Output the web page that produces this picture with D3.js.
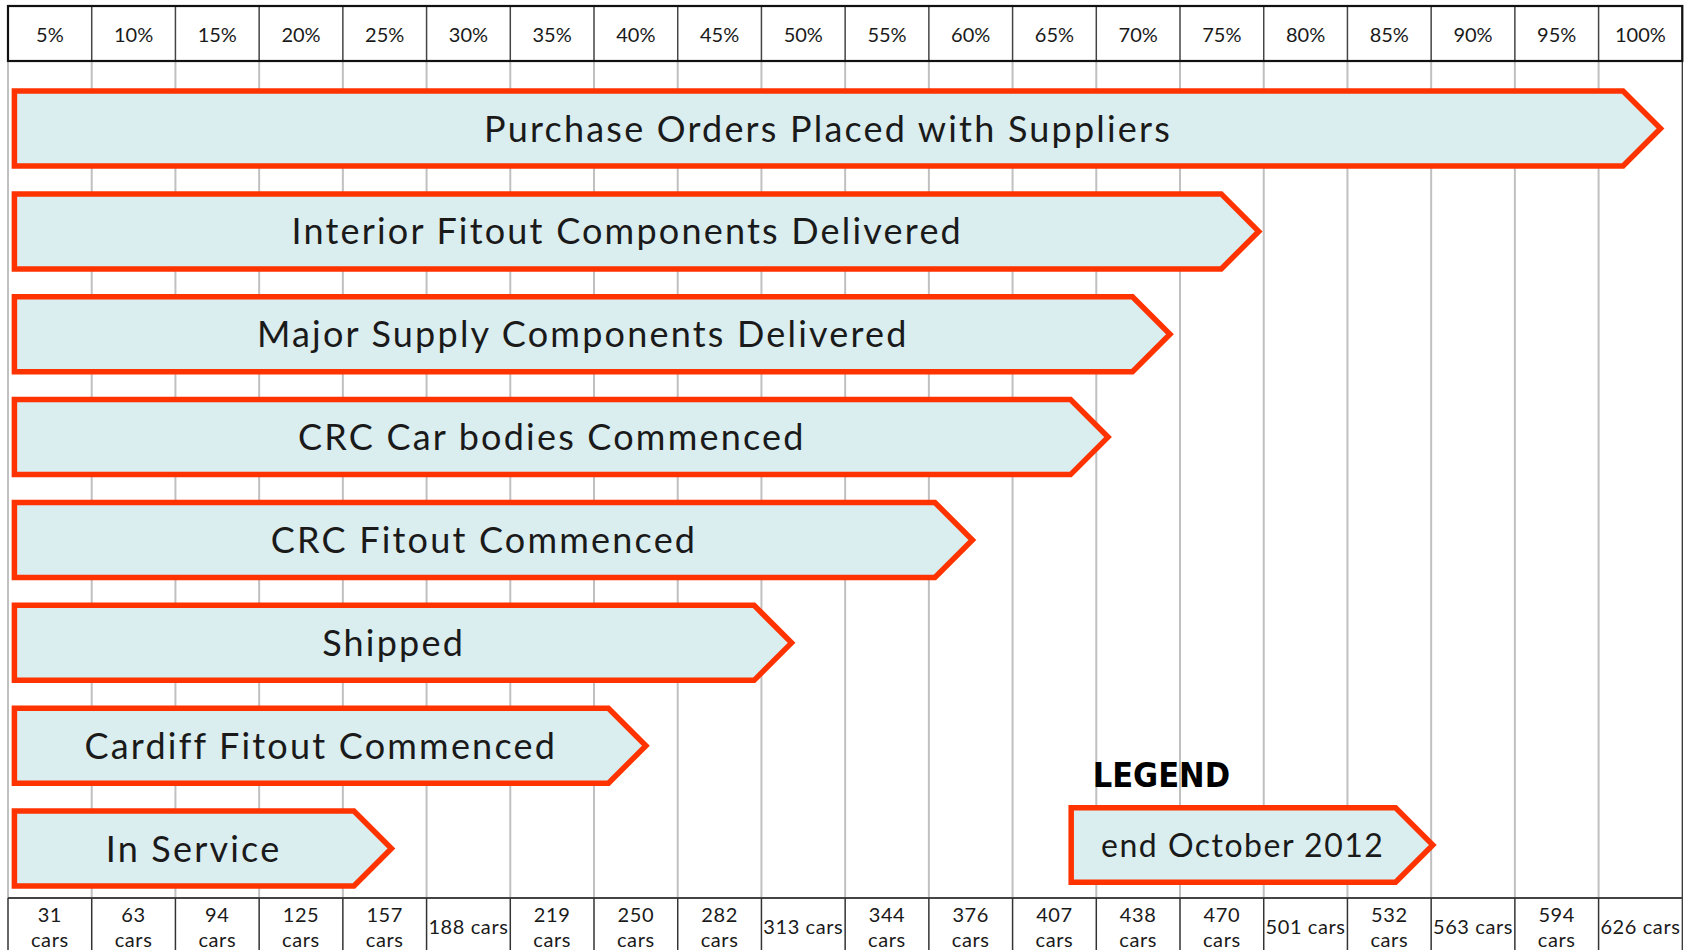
<!DOCTYPE html>
<html lang="en">
<head>
    <meta charset="utf-8">
    <title>Car delivery progress</title>
    <script src="https://cdn.jsdelivr.net/npm/d3@7"></script>
    <style type="text/css">
        body { margin: 0; background: #fff; }
        text { font-family: "Century Gothic", Lato, "Open Sans", sans-serif; fill: #1a1a1a; }
    </style>
</head>
<body>
<script type="text/javascript">

    // percentage columns across the top
    var pctLabels = ["5%", "10%", "15%", "20%", "25%", "30%", "35%", "40%", "45%", "50%",
        "55%", "60%", "65%", "70%", "75%", "80%", "85%", "90%", "95%", "100%"];

    // car counts along the bottom (line breaks as in the original table)
    var carLabels = ["31\ncars", "63\ncars", "94\ncars", "125\ncars", "157\ncars", "188 cars",
        "219\ncars", "250\ncars", "282\ncars", "313 cars", "344\ncars", "376\ncars",
        "407\ncars", "438\ncars", "470\ncars", "501 cars", "532\ncars", "563 cars",
        "594\ncars", "626 cars"];

    // stages, top to bottom
    var stages = ["Purchase Orders Placed with Suppliers", "Interior Fitout Components Delivered",
        "Major Supply Components Delivered", "CRC Car bodies Commenced", "CRC Fitout Commenced",
        "Shipped", "Cardiff Fitout Commenced", "In Service"];

    // progress reached (% of fleet) at end October 2012, read from arrow tips
    var progress = [98.7, 74.7, 69.4, 65.7, 57.6, 46.8, 38.1, 22.9];

    var legendTitle = "LEGEND";
    var legendLabel = "end October 2012";
    var legendFrom = 63.5;
    var legendTo = 85.1;

    //Width and height
    var w = 1696;
    var h = 950;

    var headTop = 6;
    var headBottom = 61;
    var footTop = 898;
    var stroke = 5.5;

    var svg = d3.select("body")
        .append("svg")
        .attr("width", w)
        .attr("height", h);

    var xScale = d3.scaleLinear()
        .domain([0, 100])
        .range([8, 1682.3]);

    var colScale = d3.scaleBand()
        .domain(pctLabels)
        .range(xScale.range());

    var yScale = d3.scaleBand()
        .domain(stages)
        .range([88.3, 888.8])
        .paddingInner(0.2174)
        .paddingOuter(0);

    // gray gridlines between header and footer
    svg.append("g")
        .selectAll("line")
        .data(d3.range(0, 100, 5))
        .enter()
        .append("line")
        .attr("x1", d => xScale(d))
        .attr("x2", d => xScale(d))
        .attr("y1", headBottom)
        .attr("y2", footTop)
        .attr("stroke", "#c0c0c0")
        .attr("stroke-width", 2);

    svg.append("line")
        .attr("x1", xScale(100)).attr("x2", xScale(100))
        .attr("y1", headTop).attr("y2", h)
        .attr("stroke", "#333").attr("stroke-width", 1.3);

    // header table
    var head = svg.append("g");
    head.selectAll("line")
        .data(d3.range(5, 100, 5))
        .enter()
        .append("line")
        .attr("x1", d => xScale(d))
        .attr("x2", d => xScale(d))
        .attr("y1", headTop)
        .attr("y2", headBottom)
        .attr("stroke", "#444")
        .attr("stroke-width", 1.5);
    head.append("rect")
        .attr("x", xScale(0))
        .attr("y", headTop)
        .attr("width", xScale(100) - xScale(0))
        .attr("height", headBottom - headTop)
        .attr("fill", "none")
        .attr("stroke", "#111")
        .attr("stroke-width", 2.2);
    head.selectAll("text")
        .data(pctLabels)
        .enter()
        .append("text")
        .attr("x", d => colScale(d) + colScale.bandwidth() / 2)
        .attr("y", (headTop + headBottom) / 2 + 1)
        .attr("dy", "0.36em")
        .attr("text-anchor", "middle")
        .style("font-size", "20px")
        .text(d => d);

    // footer table
    var foot = svg.append("g");
    foot.append("line")
        .attr("x1", xScale(0)).attr("x2", xScale(100))
        .attr("y1", footTop).attr("y2", footTop)
        .attr("stroke", "#444").attr("stroke-width", 2);
    foot.selectAll("line.div")
        .data(d3.range(0, 100, 5))
        .enter()
        .append("line")
        .attr("class", "div")
        .attr("x1", d => xScale(d))
        .attr("x2", d => xScale(d))
        .attr("y1", footTop)
        .attr("y2", h)
        .attr("stroke", "#333")
        .attr("stroke-width", 1.5);
    var footText = foot.selectAll("text")
        .data(carLabels)
        .enter()
        .append("text")
        .attr("text-anchor", "middle")
        .style("font-size", "20px")
        .style("letter-spacing", "0.6px")
        .attr("x", (d, i) => colScale(pctLabels[i]) + colScale.bandwidth() / 2)
        .attr("y", d => d.indexOf("\n") >= 0 ? 921.5 : 933.5);
    footText.each(function(d) {
        var lines = d.split("\n");
        var t = d3.select(this);
        var x = t.attr("x");
        lines.forEach(function(line, j) {
            t.append("tspan")
                .attr("x", x)
                .attr("dy", j === 0 ? 0 : 25)
                .text(line);
        });
    });

    // pentagon arrow path
    function arrow(left, tip, top, bottom) {
        var head = (bottom - top) / 2;
        var shoulder = tip - head;
        return "M" + left + "," + top +
            "L" + shoulder + "," + top +
            "L" + tip + "," + (top + head) +
            "L" + shoulder + "," + bottom +
            "L" + left + "," + bottom + "Z";
    }

    var barLeft = xScale(0) + 6.4;

    var bars = svg.append("g")
        .selectAll("g")
        .data(stages)
        .enter()
        .append("g");

    bars.append("path")
        .attr("d", (d, i) => arrow(barLeft, xScale(progress[i]),
            yScale(d) + stroke / 2, yScale(d) + yScale.bandwidth() - stroke / 2))
        .attr("fill", "#daedef")
        .attr("stroke", "#ff3300")
        .attr("stroke-width", stroke)
        .attr("stroke-linejoin", "miter");

    bars.append("text")
        .attr("x", (d, i) => {
            var tip = xScale(progress[i]);
            var head = (yScale.bandwidth() - stroke) / 2;
            return (barLeft + tip - head / 2) / 2;
        })
        .attr("y", d => yScale(d) + yScale.bandwidth() / 2)
        .attr("dy", "0.36em")
        .attr("text-anchor", "middle")
        .style("font-size", "36px")
        .style("letter-spacing", "2.2px")
        .text(d => d);

    // legend
    var legTop = 805;
    var legBottom = 885;
    var legend = svg.append("g");
    legend.append("text")
        .attr("x", 1092.7)
        .attr("y", 786.7)
        .style("font-family", "'DejaVu Sans Condensed', 'Liberation Sans Narrow', 'DejaVu Sans', sans-serif")
        .style("font-stretch", "condensed")
        .style("font-weight", "bold")
        .style("font-size", "34px")
        .style("fill", "#000")
        .text(legendTitle);
    var legLeft = xScale(legendFrom);
    var legTip = xScale(legendTo);
    legend.append("path")
        .attr("d", arrow(legLeft, legTip, legTop + stroke / 2, legBottom - stroke / 2))
        .attr("fill", "#daedef")
        .attr("stroke", "#ff3300")
        .attr("stroke-width", stroke);
    legend.append("text")
        .attr("x", (legLeft + legTip - (legBottom - legTop - stroke) / 4) / 2)
        .attr("y", (legTop + legBottom) / 2)
        .attr("dy", "0.36em")
        .attr("text-anchor", "middle")
        .style("font-size", "32px")
        .style("letter-spacing", "1.5px")
        .text(legendLabel);

</script>
</body>
</html>
